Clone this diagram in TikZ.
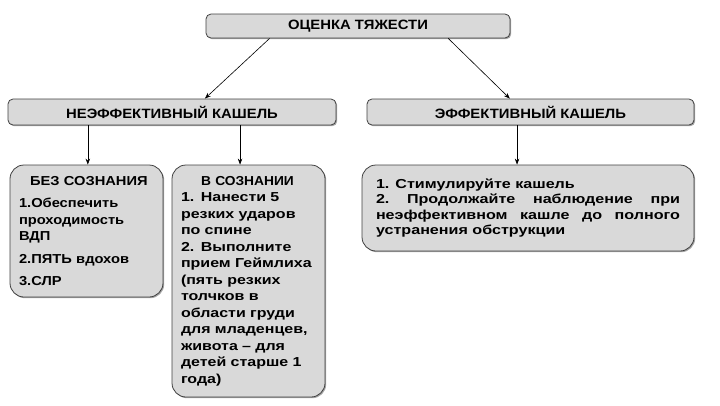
\documentclass[tikz,border=0pt]{standalone}
\usepackage{fontspec}
\setmainfont{Liberation Sans}
\newfontfamily\headfont[FakeStretch=1.1]{Liberation Sans}
\newfontfamily\bezfont[FakeStretch=1.13]{Liberation Sans}
\newfontfamily\vsozfont[FakeStretch=1.23]{Liberation Sans}
\newfontfamily\vsozhead[FakeStretch=1.06]{Liberation Sans}
\newfontfamily\stimfont[FakeStretch=1.24]{Liberation Sans}
\usetikzlibrary{arrows.meta,positioning,calc,shadows}
\definecolor{boxFill}{HTML}{D9D9D9}
\definecolor{boxLine}{HTML}{404040}

\begin{document}
\begin{tikzpicture}[x=1pt, y=1pt,
  font=\bfseries,
  headbox/.style={draw=boxLine, line width=0.8pt, fill=boxFill, rounded corners=5pt,
    drop shadow={shadow xshift=1.2pt, shadow yshift=-1.2pt, fill=black!70},
    inner sep=0pt, font=\headfont\fontsize{13.5}{16}\bfseries},
  listbox/.style={draw=boxLine, line width=0.8pt, fill=boxFill, rounded corners=14pt,
    drop shadow={shadow xshift=1.2pt, shadow yshift=-1.2pt, fill=black!70},
    inner xsep=9pt, inner ysep=4pt, align=left},
  arr/.style={-{Stealth[length=6pt, width=4.5pt]}, line width=0.6pt}]
\useasboundingbox (0,0) rectangle (720,-405);
% ---------- top level ----------
\node[headbox, minimum width=304, minimum height=24] (top) at (358,-26) {ОЦЕНКА ТЯЖЕСТИ};
% ---------- second level ----------
\node[headbox, minimum width=328, minimum height=26] (neff) at (172,-112) {НЕЭФФЕКТИВНЫЙ КАШЕЛЬ};
\node[headbox, minimum width=327, minimum height=26] (eff) at (530.5,-112) {ЭФФЕКТИВНЫЙ КАШЕЛЬ};
% ---------- third level ----------
\node[listbox, text width=135, minimum height=132,
  font=\bezfont\fontsize{13}{16.5}\bfseries] (bez) at (86.5,-231) {%
  \hspace*{11pt}БЕЗ СОЗНАНИЯ\\[6pt]
  1.Обеспечить\\ проходимость\\ ВДП\\[6pt]
  2.ПЯТЬ вдохов\\[6pt]
  3.СЛР};
\node[listbox, text width=135, minimum height=232,
  font=\vsozfont\fontsize{13}{16.5}\bfseries] (vsoz) at (248.5,-281) {%
  \hspace*{20pt}{\vsozhead В СОЗНАНИИ}\\
  1. Нанести 5\\ резких ударов\\ по спине\\
  2. Выполните\\ прием Геймлиха\\ (пять резких\\ толчков в\\ области груди\\
  для младенцев,\\ живота – для\\ детей старше 1\\ года)};
\node[listbox, align=justify, text width=304, inner xsep=14pt, minimum height=86,
  font=\stimfont\fontsize{13}{15.5}\bfseries] (stim) at (528,-208) {%
  1. Стимулируйте кашель\\
  2.\ Продолжайте наблюдение при\linebreak
  неэффективном кашле до полного\linebreak
  устранения обструкции};
% ---------- connectors ----------
\coordinate (t1) at ($(top.south west)!0.21!(top.south east)$);
\coordinate (t2) at ($(top.south west)!0.796!(top.south east)$);
\coordinate (n0) at ($(neff.north west)!0.6!(neff.north east)$);
\coordinate (e0) at ($(eff.north west)!0.437!(eff.north east)$);
\coordinate (n1) at ($(neff.south west)!0.244!(neff.south east)$);
\coordinate (n2) at ($(neff.south west)!0.707!(neff.south east)$);
\coordinate (e1) at ($(eff.south west)!0.459!(eff.south east)$);
\draw[arr] (t1) -- (n0);
\draw[arr] (t2) -- (e0);
\draw[arr] (n1) -- (n1 |- bez.north);
\draw[arr] (n2) -- (n2 |- vsoz.north);
\draw[arr] (e1) -- (e1 |- stim.north);
\end{tikzpicture}
\end{document}
